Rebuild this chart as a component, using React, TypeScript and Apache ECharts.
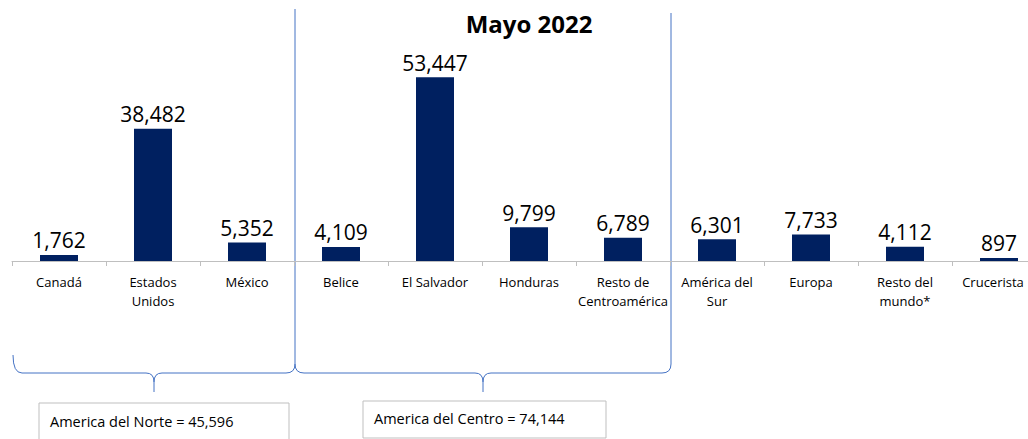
import React, { useEffect, useRef } from "react";
import * as echarts from "echarts";

const categories: string[] = [
  "Canadá",
  "Estados\nUnidos",
  "México",
  "Belice",
  "El Salvador",
  "Honduras",
  "Resto de\nCentroamérica",
  "América del\nSur",
  "Europa",
  "Resto del\nmundo*",
  "Crucerista",
];
const values: number[] = [1762, 38482, 5352, 4109, 53447, 9799, 6789, 6301, 7733, 4112, 897];
const title = "Mayo 2022";
const groupNorte = "America del Norte = 45,596";
const groupCentro = "America del Centro = 74,144";

const FONT = "'Open Sans', 'Noto Sans', sans-serif";
const BRACE = "#4472c4";

const leftBrace =
  "M 13 355 Q 13 373 22 373 L 146 373 Q 154 373 154 382 L 154 392 M 154 382 Q 154 373 162 373 L 286 373 Q 295 373 295 364 L 295 9";
const midBrace =
  "M 295 364 Q 295 373 304 373 L 475 373 Q 483 373 483 382 L 483 392 M 483 382 Q 483 373 491 373 L 662 373 Q 671 373 671 364 L 671 13";

echarts.graphic.registerShape("leftBrace", echarts.graphic.extendPath(leftBrace, {}) as any);
echarts.graphic.registerShape("midBrace", echarts.graphic.extendPath(midBrace, {}) as any);

const fmt = (v: number) => v.toLocaleString("en-US");

export default function App() {
  const ref = useRef<HTMLDivElement>(null);
  useEffect(() => {
    if (!ref.current) return;
    const chart = echarts.init(ref.current, undefined, { renderer: "svg" });
    const catData = categories.map((c, i) =>
      i === categories.length - 1 ? { value: c, textStyle: { padding: [0, 12, 0, 0] } } : c
    );
    chart.setOption({
      animation: false,
      textStyle: { fontFamily: FONT },
      title: {
        text: title,
        left: 524,
        top: 6,
        textAlign: "center",
        textStyle: { fontFamily: FONT, fontSize: 24, fontWeight: "bold", color: "#000" },
      },
      grid: {
        left: 12,
        top: 41,
        width: 1034,
        height: 220,
        containLabel: false,
        outerBoundsMode: "none",
      },
      xAxis: {
        type: "category",
        data: catData,
        axisLine: { lineStyle: { color: "#bfbfbf", width: 1 } },
        axisTick: { show: true, length: 5, lineStyle: { color: "#bfbfbf" } },
        axisLabel: {
          interval: 0,
          margin: 11,
          fontSize: 13,
          lineHeight: 19,
          color: "#000",
          fontFamily: FONT,
          hideOverlap: false,
        },
      },
      yAxis: { type: "value", min: 0, max: 64000, show: false },
      series: [
        {
          type: "bar",
          data: values,
          barWidth: 38,
          itemStyle: { color: "#002060" },
          label: {
            show: true,
            position: "top",
            distance: 4,
            fontSize: 21,
            color: "#000",
            fontFamily: FONT,
            formatter: (p: any) => fmt(p.value),
          },
        },
      ],
      graphic: [
        { type: "leftBrace", x: 0, y: 0, style: { stroke: BRACE, fill: "none", lineWidth: 1 } },
        { type: "midBrace", x: 0, y: 0, style: { stroke: BRACE, fill: "none", lineWidth: 1 } },
        {
          type: "rect",
          shape: { x: 39, y: 403, width: 250, height: 45 },
          style: { fill: "#fff", stroke: "#bfbfbf", lineWidth: 1 },
        },
        {
          type: "text",
          x: 50,
          y: 421,
          style: { text: groupNorte, fontSize: 14.5, fontFamily: FONT, fill: "#000", verticalAlign: "middle" },
        },
        {
          type: "rect",
          shape: { x: 363, y: 401, width: 243, height: 37 },
          style: { fill: "#fff", stroke: "#bfbfbf", lineWidth: 1 },
        },
        {
          type: "text",
          x: 374,
          y: 418,
          style: { text: groupCentro, fontSize: 14.5, fontFamily: FONT, fill: "#000", verticalAlign: "middle" },
        },
      ],
    });
    return () => chart.dispose();
  }, []);
  return (
    <div
      ref={ref}
      style={{ position: "absolute", left: 0, top: 0, width: 1028, height: 439, overflow: "hidden", background: "#fff" }}
    />
  );
}
